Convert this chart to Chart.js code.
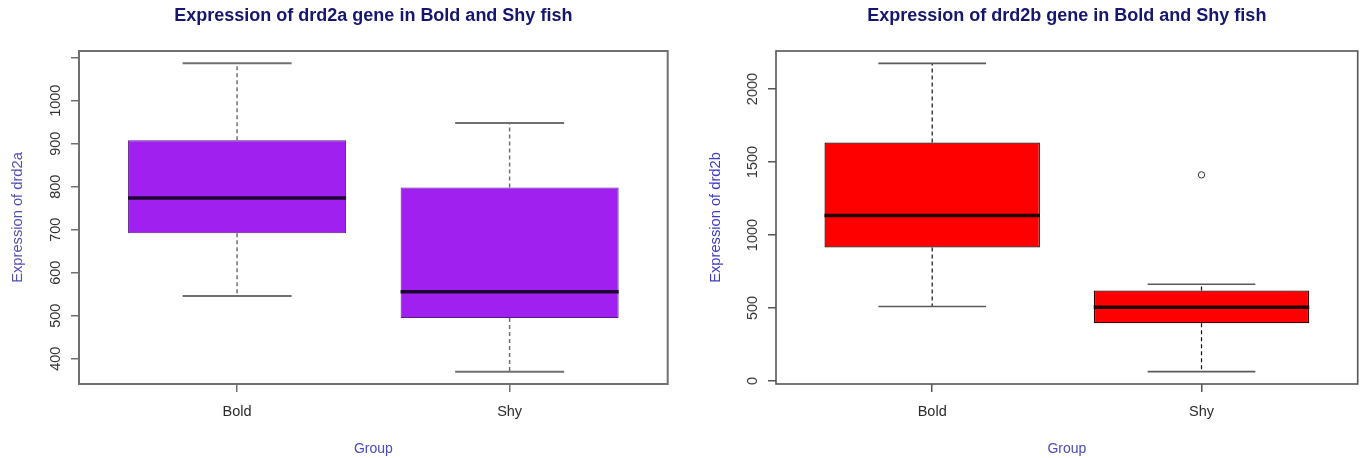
<!DOCTYPE html>
<html>
<head>
<meta charset="utf-8">
<script src="https://cdn.jsdelivr.net/npm/chart.js@4.4.1/dist/chart.umd.min.js"></script>
<style>
  html, body { margin: 0; padding: 0; background: #ffffff; }
  #wrap { position: relative; width: 1364px; height: 458px; overflow: hidden; }
  .panel { position: absolute; top: 0; width: 682px; height: 458px; }
</style>
</head>
<body>
<div id="wrap">
  <div class="panel" style="left:0"><canvas id="drd2a" width="682" height="458"></canvas></div>
  <div class="panel" style="left:682px"><canvas id="drd2b" width="682" height="458"></canvas></div>
</div>
<script>
// Groups on the x axis
const groups = ['Bold', 'Shy'];

// drd2a expression: box-plot summaries per group
const drd2aMin = [546, 370];
const drd2aQ1 = [692, 495];
const drd2aMedian = [774, 556];
const drd2aQ3 = [908, 798];
const drd2aMax = [1087, 948];
const drd2aOutliers = [[], []];
const drd2aTicks = [400, 500, 600, 700, 800, 900, 1000, 1100];
const drd2aTickLabels = ['400', '500', '600', '700', '800', '900', '1000', ''];

// drd2b expression: box-plot summaries per group
const drd2bMin = [510, 64];
const drd2bQ1 = [915, 395];
const drd2bMedian = [1133, 505];
const drd2bQ3 = [1634, 620];
const drd2bMax = [2176, 663];
const drd2bOutliers = [[], [1412]];
const drd2bTicks = [0, 500, 1000, 1500, 2000];
const drd2bTickLabels = ['0', '500', '1000', '1500', '2000'];

Chart.defaults.font.family = "'Liberation Sans', Arial, sans-serif";

const BOX_HALF = 0.4;     // half box width in x units
const STAPLE_HALF = 0.2;  // half whisker-cap width in x units

// Frame around the plotting region
const framePlugin = {
  id: 'plotFrame',
  afterDatasetsDraw(chart, args, opts) {
    const { ctx, chartArea: a } = chart;
    ctx.save();
    ctx.strokeStyle = opts.color;
    ctx.lineWidth = opts.width;
    ctx.strokeRect(a.left, a.top, a.right - a.left, a.bottom - a.top);
    ctx.restore();
  }
};

// Vertical (rotated) y tick labels
const rotatedYLabels = {
  id: 'rotatedYLabels',
  afterDraw(chart, args, opts) {
    const y = chart.scales.y;
    const ctx = chart.ctx;
    ctx.save();
    ctx.font = opts.font;
    ctx.fillStyle = opts.color;
    ctx.textAlign = 'center';
    ctx.textBaseline = 'alphabetic';
    y.ticks.forEach(t => {
      const idx = opts.values.indexOf(t.value);
      const text = idx >= 0 ? opts.labels[idx] : '';
      if (!text) return;
      ctx.save();
      ctx.translate(y.right - opts.gap, y.getPixelForValue(t.value));
      ctx.rotate(-Math.PI / 2);
      ctx.fillText(text, 0, 0);
      ctx.restore();
    });
    ctx.restore();
  }
};

function boxChart(id, s) {
  const pos = groups.map((g, i) => i + 1);
  const n = groups.length;
  const all = s.min.concat(s.max, s.outliers.flat());
  const lo = Math.min(...all), hi = Math.max(...all);
  const pad = 0.04 * (hi - lo);

  const boxes = pos.map((x, i) => ({ x, y: [s.q1[i], s.q3[i]] }));
  const whiskers = pos.flatMap((x, i) => [
    { x, y: s.q3[i] }, { x, y: s.max[i] }, { x, y: null },
    { x, y: s.q1[i] }, { x, y: s.min[i] }, { x, y: null }
  ]);
  const staples = pos.flatMap((x, i) => [
    { x: x - STAPLE_HALF, y: s.max[i] }, { x: x + STAPLE_HALF, y: s.max[i] }, { x, y: null },
    { x: x - STAPLE_HALF, y: s.min[i] }, { x: x + STAPLE_HALF, y: s.min[i] }, { x, y: null }
  ]);
  const medians = pos.flatMap((x, i) => [
    { x: x - BOX_HALF, y: s.median[i] }, { x: x + BOX_HALF, y: s.median[i] }, { x, y: null }
  ]);
  const outliers = pos.flatMap((x, i) => s.outliers[i].map(v => ({ x, y: v })));

  return new Chart(document.getElementById(id), {
    type: 'bar',
    data: {
      datasets: [
        {
          type: 'bar', label: 'box', data: boxes, order: 4,
          backgroundColor: s.fill, borderColor: s.edge, borderWidth: s.edgeWidth,
          borderSkipped: false, barPercentage: 2 * BOX_HALF, categoryPercentage: 1
        },
        {
          type: 'line', label: 'whiskers', data: whiskers, order: 3,
          borderColor: s.whisker, borderWidth: s.whiskerWidth, borderDash: [4, 3],
          pointRadius: 0, spanGaps: false, tension: 0, fill: false
        },
        {
          type: 'line', label: 'staples', data: staples, order: 2,
          borderColor: s.staple, borderWidth: s.stapleWidth,
          pointRadius: 0, spanGaps: false, tension: 0, fill: false
        },
        {
          type: 'line', label: 'median', data: medians, order: 1,
          borderColor: s.medianColor, borderWidth: 3.5,
          pointRadius: 0, spanGaps: false, tension: 0, fill: false
        },
        {
          type: 'scatter', label: 'outliers', data: outliers, order: 0,
          pointStyle: 'circle', pointRadius: 3.2, pointBorderWidth: 1,
          pointBackgroundColor: 'rgba(0,0,0,0)', pointBorderColor: '#333333'
        }
      ]
    },
    options: {
      responsive: false,
      animation: false,
      events: [],
      layout: { padding: { left: 0, right: s.rightPad, top: 0, bottom: 0 } },
      plugins: {
        legend: { display: false },
        tooltip: { enabled: false },
        title: {
          display: true, text: s.title, fullSize: false,
          color: '#16166e', font: { size: 18, weight: 'bold' },
          padding: { top: 5, bottom: 24.4 }
        },
        plotFrame: { color: s.frame, width: s.frameWidth },
        rotatedYLabels: {
          values: s.ticks, labels: s.tickLabels, gap: 19,
          font: "14.5px 'Liberation Sans', Arial, sans-serif", color: '#333333'
        }
      },
      scales: {
        x: {
          type: 'linear', offset: false,
          min: 0.5 - 0.04 * n, max: n + 0.5 + 0.04 * n,
          afterBuildTicks: ax => { ax.ticks = pos.map(v => ({ value: v })); },
          afterFit: ax => { ax.height = 74; },
          ticks: {
            callback: v => groups[v - 1] ?? '',
            font: { size: 14.5 }, color: '#2b2b2b', padding: 11,
            maxRotation: 0, autoSkip: false
          },
          grid: {
            display: true, drawOnChartArea: false, drawTicks: true, offset: false,
            tickLength: 8, color: s.frame, lineWidth: 1.5
          },
          border: { display: false },
          title: {
            display: true, text: 'Group', color: '#4a4ab8',
            font: { size: 14 }, padding: { top: 0, bottom: 0.5 }
          }
        },
        y: {
          type: 'linear', bounds: 'data',
          min: lo - pad, max: hi + pad,
          afterBuildTicks: ax => { ax.ticks = s.ticks.map(v => ({ value: v })); },
          afterFit: ax => { ax.width = s.yWidth; },
          ticks: { display: false },
          grid: {
            display: true, drawOnChartArea: false, drawTicks: true,
            tickLength: 8, color: s.frame, lineWidth: 1.5
          },
          border: { display: false },
          title: {
            display: true, text: s.yTitle, color: s.yTitleColor,
            font: { size: 14.7 }, padding: { top: s.yTitlePad, bottom: 0 }
          }
        }
      }
    },
    plugins: [framePlugin, rotatedYLabels]
  });
}

boxChart('drd2a', {
  title: 'Expression of drd2a gene in Bold and Shy fish',
  yTitle: 'Expression of drd2a',
  min: drd2aMin, q1: drd2aQ1, median: drd2aMedian, q3: drd2aQ3, max: drd2aMax,
  outliers: drd2aOutliers, ticks: drd2aTicks, tickLabels: drd2aTickLabels,
  fill: '#A020F0', edge: '#5a1a86', edgeWidth: 1,
  whisker: '#707070', whiskerWidth: 1.5, staple: '#707070', stapleWidth: 2,
  medianColor: '#1e0832', frame: '#707070', frameWidth: 2,
  yTitleColor: '#5050b4', yTitlePad: 9.5, yWidth: 79, rightPad: 14.3
});

boxChart('drd2b', {
  title: 'Expression of drd2b gene in Bold and Shy fish',
  yTitle: 'Expression of drd2b',
  min: drd2bMin, q1: drd2bQ1, median: drd2bMedian, q3: drd2bQ3, max: drd2bMax,
  outliers: drd2bOutliers, ticks: drd2bTicks, tickLabels: drd2bTickLabels,
  fill: '#FF0000', edge: '#3a0000', edgeWidth: 1.3,
  whisker: '#111111', whiskerWidth: 1.2, staple: '#5a5a5a', stapleWidth: 1.6,
  medianColor: '#220000', frame: '#555555', frameWidth: 1.6,
  yTitleColor: '#3c3cc4', yTitlePad: 25.6, yWidth: 94, rightPad: 6.3
});
</script>
</body>
</html>
